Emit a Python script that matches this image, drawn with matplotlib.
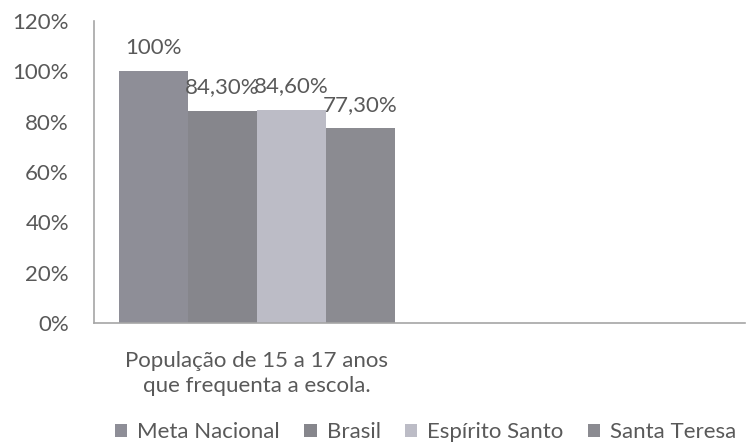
import matplotlib
matplotlib.use("Agg")
import matplotlib.pyplot as plt
from matplotlib.patches import Patch

# dados
categorias = ["População de 15 a 17 anos\nque frequenta a escola.", ""]
series = ["Meta Nacional", "Brasil", "Espírito Santo", "Santa Teresa"]
valores = [1.00, 0.843, 0.846, 0.773]
rotulos = ["100%", "84,30%", "84,60%", "77,30%"]
cores = ["#8e8e97", "#86868c", "#bcbcc6", "#8b8b91"]
yticks = [0, 0.2, 0.4, 0.6, 0.8, 1.0, 1.2]
ytick_labels = ["0%", "20%", "40%", "60%", "80%", "100%", "120%"]

plt.rcParams["font.family"] = ["Lato", "DejaVu Sans"]
texto = "#595959"

fig = plt.figure(figsize=(7.47, 4.47), dpi=100)
ax = fig.add_axes([0.1258, 0.2774, 0.8712, 0.6756])

largura = 0.212
for i, (nome, v, cor) in enumerate(zip(series, valores, cores)):
    x = 0 + (i - 1.5) * largura
    ax.bar(x, v, width=largura, color=cor, linewidth=0)
    ax.annotate(rotulos[i], (x, v), xytext=(0, 17), textcoords="offset points",
                ha="center", va="center", fontsize=16, color=texto)

ax.set_xlim(-0.5, 1.5)
ax.set_ylim(0, 1.2)
ax.set_xticks([0, 1])
ax.set_xticklabels(categorias, fontsize=16, color=texto, linespacing=1.35)
ax.set_yticks(yticks)
ax.set_yticklabels(ytick_labels, fontsize=16, color=texto)
ax.tick_params(length=0, pad=18, axis="y")
ax.tick_params(length=0, pad=20, axis="x")

for lado in ["top", "right"]:
    ax.spines[lado].set_visible(False)
for lado in ["left", "bottom"]:
    ax.spines[lado].set_color("#a6a6a6")
    ax.spines[lado].set_linewidth(1.2)

handles = [Patch(facecolor=c, label=s) for s, c in zip(series, cores)]
fig.legend(handles=handles, loc="center", bbox_to_anchor=(0.57, 0.033), ncol=4,
           frameon=False, fontsize=16, labelcolor=texto, handlelength=0.55,
           handleheight=0.55, handletextpad=0.45, columnspacing=1.1)

fig.savefig("out.png", dpi=100)
